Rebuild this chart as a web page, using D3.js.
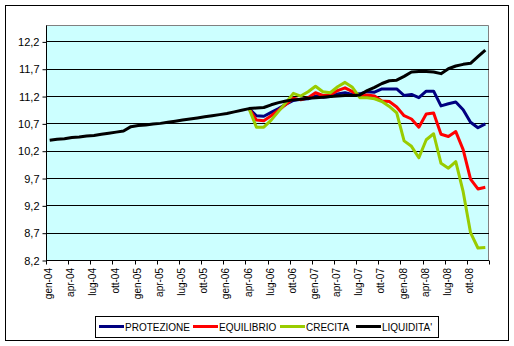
<!DOCTYPE html>
<html><head><meta charset="utf-8">
<script src="https://cdn.jsdelivr.net/npm/d3@7"></script>
<style>body{margin:0;background:#fff;} svg{display:block;font-family:"Liberation Sans",Arial,sans-serif;}</style>
</head><body>
<svg id="c" width="514" height="346"></svg>
<script>
const monthNames = ["gen","feb","mar","apr","mag","giu","lug","ago","set","ott","nov","dic"];
const years = ["04","05","06","07","08"];
const categories = [];
years.forEach(y => monthNames.forEach(m => categories.push(m + "-" + y)));

const yTicks = [8.2, 8.7, 9.2, 9.7, 10.2, 10.7, 11.2, 11.7, 12.2];
const seriesNames = ["PROTEZIONE", "EQUILIBRIO", "CRECITA", "LIQUIDITA'"];
const seriesColors = ["#000080", "#FF0000", "#99CC00", "#000000"];

const liquidita = [10.39,10.41,10.42,10.44,10.45,10.47,10.48,10.50,10.52,10.54,10.56,10.64,
  10.66,10.67,10.69,10.70,10.72,10.74,10.76,10.78,10.80,10.82,10.84,10.86,
  10.88,10.91,10.94,10.97,10.98,10.99,11.04,11.08,11.11,11.13,11.14,11.16,
  11.17,11.18,11.19,11.20,11.21,11.21,11.22,11.30,11.36,11.43,11.48,11.49,
  11.56,11.64,11.65,11.65,11.64,11.61,11.70,11.75,11.78,11.80,11.92,12.04];
const startIndex = 27; // apr-06
const protezione = [10.97,10.84,10.83,10.90,10.97,11.05,11.12,11.14,11.15,11.20,11.18,11.19,11.24,11.26,11.23,11.24,11.28,11.27,11.33,11.33,11.33,11.21,11.23,11.17,11.29,11.29,11.02,11.06,11.09,10.95,10.72,10.62,10.69];
const equilibrio = [10.97,10.76,10.75,10.84,10.94,11.05,11.16,11.13,11.17,11.26,11.21,11.22,11.30,11.35,11.28,11.20,11.22,11.20,11.11,11.10,11.00,10.84,10.78,10.63,10.87,10.89,10.50,10.46,10.55,10.22,9.68,9.50,9.53];
const crecita = [10.97,10.63,10.63,10.76,10.92,11.08,11.25,11.20,11.28,11.38,11.28,11.26,11.37,11.45,11.36,11.17,11.17,11.15,11.10,11.01,10.89,10.38,10.28,10.07,10.40,10.51,9.97,9.88,10.00,9.45,8.70,8.42,8.43];

const full = arr => categories.map((c, i) => i < startIndex ? null : arr[i - startIndex]);
const seriesData = [full(protezione), full(equilibrio), full(crecita), liquidita];

const svg = d3.select("#c");
const L = 46, R = 489, T = 25, B = 260;

svg.append("rect").attr("x", 5.5).attr("y", 5.5).attr("width", 503).attr("height", 335)
  .attr("fill", "#fff").attr("stroke", "#000").attr("stroke-width", 1);

const x = d3.scaleBand().domain(categories).range([L, R]).padding(0);
const y = d3.scaleLinear().domain([8.2, 12.5]).range([B, T]);

// plot area
svg.append("rect").attr("x", L).attr("y", T).attr("width", R - L).attr("height", B - T)
  .attr("fill", "#CCFFFF");
svg.append("path").attr("d", `M${L},${T + 0.5}H${R - 0.5}V${B}`).attr("fill", "none").attr("stroke", "#808080");

// gridlines
svg.append("g").selectAll("line").data(yTicks).join("line")
  .attr("x1", L).attr("x2", R).attr("y1", d => Math.round(y(d)) + 0.5).attr("y2", d => Math.round(y(d)) + 0.5)
  .attr("stroke", "#000").attr("stroke-width", 1);

// y axis
const yAxis = d3.axisLeft(y).tickValues(yTicks).tickSize(4).tickPadding(3)
  .tickFormat(d => d3.format(".1f")(d).replace(".", ","));
const gy = svg.append("g").attr("transform", `translate(${L + 0.5},0.5)`).call(yAxis);
gy.select(".domain").attr("d", `M0,${T}V${B}`).attr("stroke", "#000");
gy.selectAll(".tick line").attr("stroke", "#000");
gy.selectAll("text").attr("font-size", 11).attr("font-family", "Liberation Sans, Arial, sans-serif").attr("fill", "#000");

// x axis
const labelCats = categories.filter((c, i) => i % 3 === 0);
const gx = svg.append("g").attr("transform", `translate(0,${B + 0.5})`);
gx.append("line").attr("x1", L).attr("x2", R).attr("stroke", "#000");
const tickPos = labelCats.map(c => x(c)).concat([R]);
gx.selectAll("line.t").data(tickPos).join("line").attr("class", "t")
  .attr("x1", d => Math.round(d) + 0.5).attr("x2", d => Math.round(d) + 0.5).attr("y1", 0).attr("y2", 4)
  .attr("stroke", "#000");
gx.selectAll("text").data(labelCats).join("text")
  .attr("transform", c => `translate(${x(c) + x.bandwidth() / 2 - 1},7.5) rotate(-90)`)
  .attr("text-anchor", "end").attr("dominant-baseline", "central")
  .attr("font-size", 10).attr("fill", "#000").text(c => c);

// lines
const line = d3.line().defined(d => d != null)
  .x((d, i) => x(categories[i]) + x.bandwidth() / 2).y(d => y(d));
svg.append("g").selectAll("path").data(seriesData).join("path")
  .attr("d", d => line(d)).attr("fill", "none")
  .attr("stroke", (d, i) => seriesColors[i]).attr("stroke-width", 3)
  .attr("stroke-linejoin", "round").attr("stroke-linecap", "butt");

// legend
const lg = svg.append("g");
lg.append("rect").attr("x", 95.5).attr("y", 316.5).attr("width", 343).attr("height", 21)
  .attr("fill", "#fff").attr("stroke", "#000");
const legendX = [99, 193, 280, 356];
seriesNames.forEach((n, i) => {
  lg.append("line").attr("x1", legendX[i]).attr("x2", legendX[i] + 25).attr("y1", 326.5).attr("y2", 326.5)
    .attr("stroke", seriesColors[i]).attr("stroke-width", 3);
  lg.append("text").attr("x", legendX[i] + 26).attr("y", 327).attr("dominant-baseline", "central")
    .attr("font-size", 10).attr("fill", "#000").text(n);
});
</script>
</body></html>
